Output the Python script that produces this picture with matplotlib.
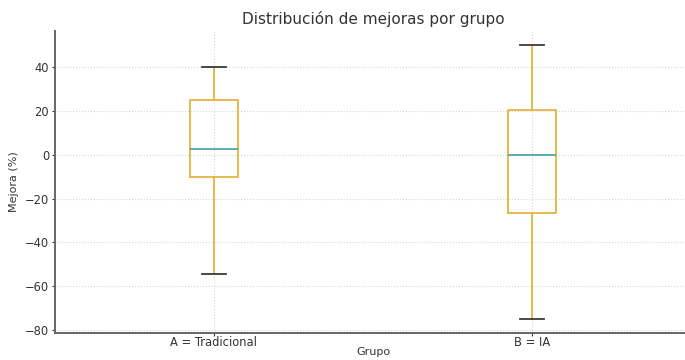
import matplotlib.pyplot as plt

# Five-number summaries per group (improvement, %)
groups = ["A = Tradicional", "B = IA"]
whisker_low = [-54.3, -75.0]
q1 = [-10.0, -26.5]
median = [2.7, 0.0]
q3 = [25.0, 20.5]
whisker_high = [40.0, 50.0]

box_color = "#E4B540"
median_color = "#4BA89E"
cap_color = "#3A3A3A"

fig = plt.figure(figsize=(6.85, 3.6), dpi=100)
ax = fig.add_axes([0.080, 0.075, 0.929, 0.839])

stats = []
for i, name in enumerate(groups):
    stats.append({
        "label": name,
        "whislo": whisker_low[i],
        "q1": q1[i],
        "med": median[i],
        "q3": q3[i],
        "whishi": whisker_high[i],
        "fliers": [],
    })

ax.bxp(
    stats,
    positions=[1, 2],
    widths=0.15,
    boxprops=dict(color=box_color, linewidth=1.3),
    whiskerprops=dict(color=box_color, linewidth=1.3),
    medianprops=dict(color=median_color, linewidth=1.3),
    capprops=dict(color=cap_color, linewidth=1.3),
    showfliers=False,
)

ax.set_xlim(0.5, 2.5)
ax.set_ylim(-81.2, 56.3)
ax.set_yticks([-80, -60, -40, -20, 0, 20, 40])

ax.grid(True, linestyle=":", color="#d6d6d6", linewidth=0.8)
ax.set_axisbelow(True)
for side in ["top", "right"]:
    ax.spines[side].set_visible(False)
for side in ["left", "bottom"]:
    ax.spines[side].set_color("#666666")
    ax.spines[side].set_linewidth(1.4)

ax.tick_params(axis="both", labelsize=8.3, colors="#333333", length=2.5,
               width=0.8, pad=1.5)
ax.tick_params(axis="x", length=2, pad=0.5)
ax.set_title("Distribución de mejoras por grupo", fontsize=11, color="#333333",
             pad=5)
ax.set_xlabel("Grupo", fontsize=8, color="#333333")
ax.xaxis.set_label_coords(0.5, -0.048)
ax.xaxis.label.set_verticalalignment("top")
ax.set_ylabel("Mejora (%)", fontsize=8, color="#333333", labelpad=4)

fig.savefig("out.png", dpi=100)
